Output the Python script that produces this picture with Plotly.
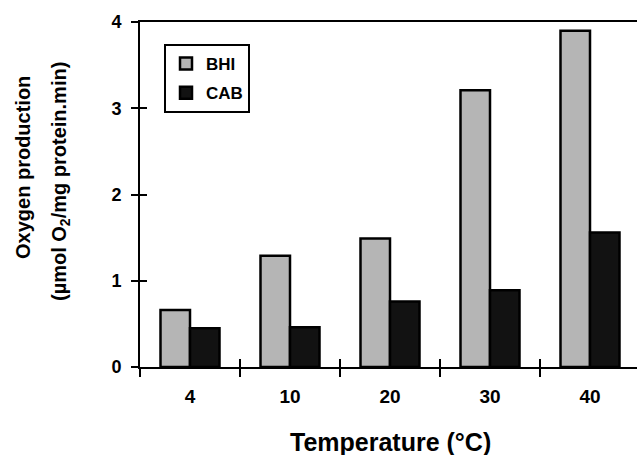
import plotly.graph_objects as go

temps = ["4", "10", "20", "30", "40"]
bhi = [0.66, 1.29, 1.49, 3.21, 3.90]
cab = [0.45, 0.46, 0.76, 0.89, 1.56]
y_ticks = [0, 1, 2, 3, 4]

FONT = "Arial, Liberation Sans, sans-serif"
L, T, B, W, H = 140, 22, 88, 637, 455
pw = W - L
ph = H - T - B

fig = go.Figure()
fig.add_trace(go.Bar(x=temps, y=bhi, name="BHI", legendgroup="a",
                     marker=dict(color="#b5b5b5", line=dict(color="black", width=2.5))))
fig.add_trace(go.Bar(x=temps, y=cab, name="CAB", legendgroup="b",
                     marker=dict(color="#121212", line=dict(color="black", width=2.5))))
# dummy trace to anchor overlay axes (for crossing ticks)
fig.add_trace(go.Scatter(x=[], y=[], xaxis="x2", yaxis="y2", showlegend=False))

xr = [-0.5, 4.47]
fig.update_layout(
    width=W, height=H,
    margin=dict(l=L, r=0, t=T, b=B, pad=0),
    paper_bgcolor="white", plot_bgcolor="white",
    bargap=0.41, bargroupgap=0,
    font=dict(family=FONT, color="black", size=19, weight="bold"),
    xaxis=dict(range=xr, showline=True, linecolor="black", linewidth=2, mirror=True,
               ticks="outside", ticklen=8, tickwidth=2, tickcolor="black",
               tickson="boundaries", showgrid=False, zeroline=False,
               ticklabelstandoff=11,
               tickfont=dict(size=19, family=FONT, weight="bold", color="black")),
    yaxis=dict(range=[0, 4], showline=True, linecolor="black", linewidth=2,
               ticks="outside", ticklen=7, tickwidth=2, tickcolor="black",
               tickvals=y_ticks, showgrid=False, zeroline=False,
               ticklabelstandoff=6,
               tickfont=dict(size=18, family=FONT, weight="bold", color="black")),
    xaxis2=dict(overlaying="x", range=xr, tickvals=[-0.5, 0.5, 1.5, 2.5, 3.5, 4.5],
                ticks="inside", ticklen=8, tickwidth=2, tickcolor="black",
                showticklabels=False, showgrid=False, zeroline=False, showline=False),
    yaxis2=dict(overlaying="y", range=[0, 4], tickvals=[0, 1, 2, 3],
                ticks="inside", ticklen=7, tickwidth=2, tickcolor="black",
                showticklabels=False, showgrid=False, zeroline=False, showline=False),
    legend=dict(x=(164 - L) / pw, y=(H - B - 44) / ph, xanchor="left", yanchor="top",
                bordercolor="black", borderwidth=2, bgcolor="white",
                traceorder="grouped", tracegroupgap=4,
                font=dict(size=17, family=FONT, weight="bold"),
                itemwidth=30),
    showlegend=True,
)

fig.add_annotation(text="Oxygen production", xref="paper", yref="paper",
                   x=(23 - L) / pw, y=(H - B - 168) / ph, textangle=-90,
                   xanchor="center", yanchor="middle", showarrow=False,
                   font=dict(size=20, family=FONT, weight="bold"))
fig.add_annotation(text="(µmol O<sub>2</sub>/mg protein.min)", xref="paper", yref="paper",
                   x=(61 - L) / pw, y=(H - B - 182) / ph, textangle=-90,
                   xanchor="center", yanchor="middle", showarrow=False,
                   font=dict(size=20, family=FONT, weight="bold"))
fig.add_annotation(text="Temperature (°C)", xref="paper", yref="paper",
                   x=(390 - L) / pw, y=-(442 - (H - B)) / ph,
                   xanchor="center", yanchor="middle", showarrow=False,
                   font=dict(size=25, family=FONT, weight="bold"))

fig.write_html("out.html")
